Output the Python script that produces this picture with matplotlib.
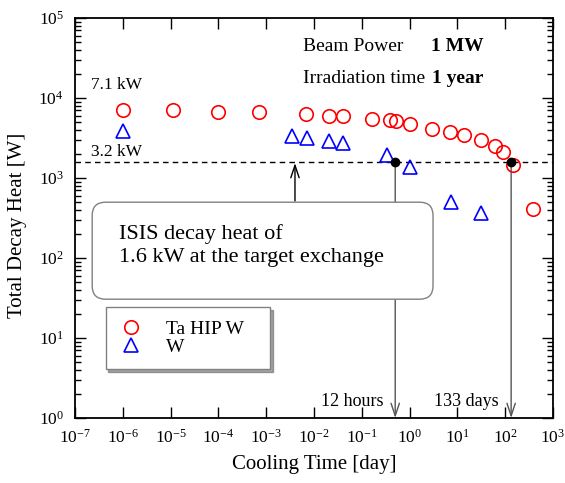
import matplotlib
matplotlib.use("Agg")
import matplotlib.pyplot as plt
from matplotlib.patches import FancyBboxPatch
from matplotlib.ticker import FixedLocator, LogLocator, NullFormatter, NullLocator

plt.rcParams["font.family"] = ["Liberation Serif", "DejaVu Serif"]
plt.rcParams["mathtext.fontset"] = "custom"
plt.rcParams["mathtext.rm"] = "Liberation Serif"

# data
ta_time = [1e-6, 1.1e-5, 1e-4, 7e-4, 6.8e-3, 0.021, 0.041, 0.166, 0.38, 0.51,
           1.0, 3.0, 7.0, 14, 31, 61, 91, 148, 376]
ta_heat = [7000, 7000, 6740, 6600, 6300, 6000, 5900, 5500, 5250, 5100,
           4800, 4130, 3720, 3400, 3010, 2530, 2090, 1460, 410]

w_time = [1e-6, 3.5e-3, 7e-3, 0.021, 0.041, 0.33, 1.0, 7.2, 31]
w_heat = [3830, 3310, 3190, 2870, 2700, 1950, 1360, 508, 363]

isis_limit = 1600
cross_times = [0.5, 133]
cross_labels = ["12 hours", "133 days"]

x_ticks = [10.0 ** p for p in range(-7, 4)]
x_labels = [r"$\mathregular{10^{%d}}$" % p for p in range(-7, 4)]
y_ticks = [10.0 ** p for p in range(0, 6)]
y_labels = [r"$\mathregular{10^{%d}}$" % p for p in range(0, 6)]

fig = plt.figure(figsize=(5.65, 4.83), dpi=100)
ax = fig.add_axes([0.1327, 0.1346, 0.8461, 0.8281])
ax.set_xscale("log")
ax.set_yscale("log")
ax.set_xlim(1e-7, 1e3)
ax.set_ylim(1e0, 1e5)

ax.plot(ta_time, ta_heat, "o", ms=9.7, mfc="none", mec="red", mew=1.2,
        label="Ta HIP W", zorder=5)
ax.plot(w_time, w_heat, "^", ms=9.7, mfc="none", mec="blue", mew=1.2,
        label="W", zorder=5)

# ISIS level
ax.axhline(isis_limit, color="black", ls=(0, (4, 3)), lw=1.0, zorder=2)

# crossing points and arrows down to the axis
for t, lab in zip(cross_times, cross_labels):
    ax.annotate("", xy=(t, 1.0), xytext=(t, isis_limit),
                arrowprops=dict(arrowstyle="->,head_length=0.9,head_width=0.3",
                                color="#555555", lw=1.0, shrinkA=0, shrinkB=0),
                zorder=1)
    ax.plot(t, isis_limit, "o", ms=6, color="black", zorder=6)
    ax.text(t / 1.8, 1.25, lab, ha="right", va="bottom", fontsize=13)

# rounded box with text
box = FancyBboxPatch((0.036, 0.297), 0.713, 0.2425,
                     boxstyle="round,pad=0,rounding_size=0.028",
                     mutation_aspect=1.195, transform=ax.transAxes,
                     facecolor="white", edgecolor="#808080", lw=1.0, zorder=3)
ax.add_patch(box)
ax.text(0.093, 0.432, "ISIS decay heat of\n1.6 kW at the target exchange",
        transform=ax.transAxes, ha="left", va="center", fontsize=16,
        linespacing=1.3, zorder=4)

# arrow from the box up to the dashed line
ax.annotate("", xy=(4e-3, isis_limit), xytext=(4e-3, 515),
            arrowprops=dict(arrowstyle="->,head_length=0.9,head_width=0.3",
                            color="black", lw=1.0, shrinkA=0, shrinkB=1),
            zorder=2)

# labels in the plot
ax.text(0.478, 0.928, "Beam Power", transform=ax.transAxes, fontsize=14,
        va="center")
ax.text(0.744, 0.928, "1 MW", transform=ax.transAxes, fontsize=14,
        fontweight="bold", va="center")
ax.text(0.478, 0.848, "Irradiation time", transform=ax.transAxes,
        fontsize=14, va="center")
ax.text(0.746, 0.848, "1 year", transform=ax.transAxes, fontsize=14,
        fontweight="bold", va="center")
ax.text(0.033, 0.833, "7.1 kW", transform=ax.transAxes, fontsize=12.5,
        va="center")
ax.text(0.033, 0.665, "3.2 kW", transform=ax.transAxes, fontsize=12.5,
        va="center")

leg = ax.legend(loc="upper left", bbox_to_anchor=(0.064, 0.128, 0.345, 0.15),
                mode="expand", fontsize=14, frameon=True, fancybox=False,
                shadow=True, edgecolor="#808080", framealpha=1,
                handlelength=1.2, handletextpad=1.2, borderpad=0.7,
                labelspacing=0.0, borderaxespad=0)
leg.get_frame().set_linewidth(1.0)
leg.set_zorder(7)

# ticks
ax.xaxis.set_major_locator(FixedLocator(x_ticks))
ax.set_xticklabels(x_labels)
ax.xaxis.set_minor_locator(NullLocator())
ax.yaxis.set_major_locator(FixedLocator(y_ticks))
ax.set_yticklabels(y_labels)
ax.yaxis.set_minor_locator(LogLocator(base=10, subs=range(2, 10)))
ax.yaxis.set_minor_formatter(NullFormatter())
ax.tick_params(which="both", direction="in", top=True, right=True,
               labelsize=12.5, width=1.0)
ax.tick_params(which="major", length=8, pad=8)
ax.tick_params(which="minor", length=4)
for s in ax.spines.values():
    s.set_linewidth(1.3)

ax.set_xlabel("Cooling Time [day]", fontsize=15, labelpad=6)
ax.set_ylabel("Total Decay Heat [W]", fontsize=15)
ax.yaxis.set_label_coords(-0.100, 0.4825)

fig.savefig("out.png", dpi=100)
